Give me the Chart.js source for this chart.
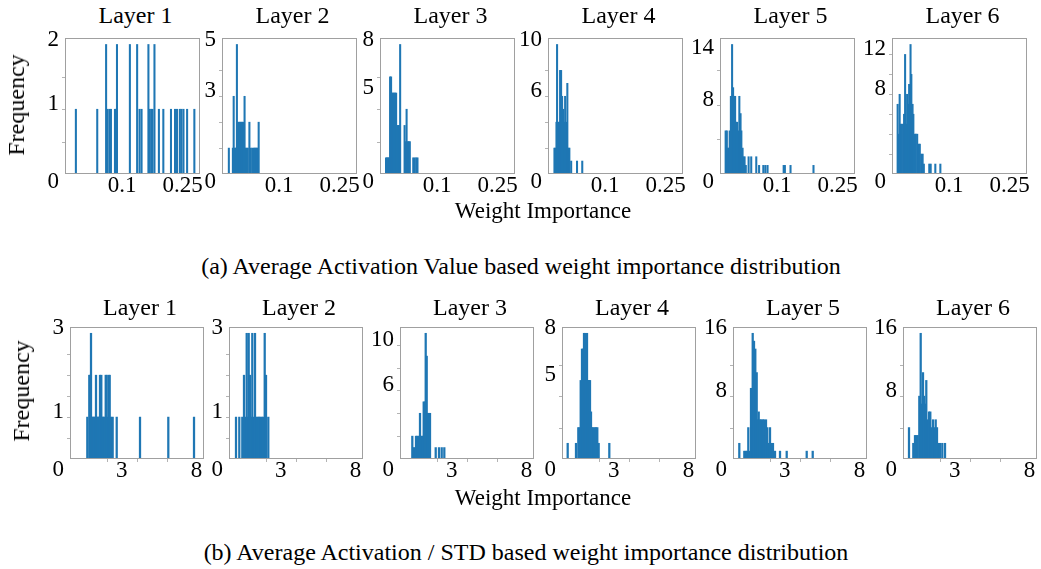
<!DOCTYPE html>
<html>
<head>
<meta charset="utf-8">
<script src="https://cdn.jsdelivr.net/npm/chart.js@4.4.1/dist/chart.umd.min.js"></script>
<style>
html, body { margin: 0; padding: 0; background: #fff; }
#fig { position: relative; width: 1041px; height: 569px; overflow: hidden;
       font-family: "Liberation Serif", "Times New Roman", serif; color: #000; }
#fig canvas { position: absolute; }
.txt { position: absolute; white-space: nowrap; line-height: 1; }
</style>
</head>
<body>
<div id="fig"></div>
<script>
// ---- data ----
const layerNames = ['Layer 1', 'Layer 2', 'Layer 3', 'Layer 4', 'Layer 5', 'Layer 6'];
const captions = [
    '(a) Average Activation Value based weight importance distribution',
    '(b) Average Activation / STD based weight importance distribution'
];
const xTitle = 'Weight Importance';
const yTitle = 'Frequency';

// x tick labels
const topXTicks = [0.1, 0.25];
const topXText = ['0.1', '0.25'];
const botXTicks = [3, 8];
const botXText = ['3', '8'];

// y tick labels per panel
const topYTicks = [[0, 1, 2], [0, 3, 5], [0, 5, 8], [0, 6, 10], [0, 8, 14], [0, 8, 12]];
const botYTicks = [[0, 1, 3], [0, 1, 3], [0, 6, 10], [0, 5, 8], [0, 8, 16], [0, 8, 16]];

// (a) average activation value: bin position / count
const a1x = [-0.015, 0.038, 0.060, 0.063, 0.068, 0.072, 0.082, 0.084, 0.087, 0.119, 0.137, 0.143, 0.148, 0.165,
             0.168, 0.172, 0.175, 0.180, 0.191, 0.202, 0.221, 0.231, 0.236, 0.243, 0.247, 0.252, 0.261, 0.279];
const a1n = [1, 1, 2, 1, 1, 1, 1, 1, 2, 2, 2, 1, 1, 2, 1, 1, 1, 2, 1, 1, 1, 1, 1, 1, 1, 1, 1, 1];

const a2x = [-0.025, -0.015, -0.013, -0.010, -0.008, -0.005, -0.002, 0.001, 0.003, 0.006, 0.008, 0.011, 0.014,
             0.016, 0.019, 0.022, 0.026, 0.029, 0.033, 0.037, 0.039, 0.042, 0.044, 0.047, 0.049];
const a2n = [1, 1, 3, 1, 1, 5, 2, 2, 2, 2, 2, 2, 3, 1, 1, 1, 2, 1, 1, 1, 1, 1, 1, 1, 2];

const a3x = [-0.027, -0.0245, -0.022, -0.0195, -0.017, -0.0145, -0.012, -0.0095, -0.007, -0.0045, -0.002, 0.0013,
             0.0038, 0.0063, 0.008, 0.019, 0.022, 0.024, 0.027, 0.029, 0.032, 0.0405, 0.044, 0.048, 0.051];
const a3n = [1, 1, 1, 1, 6, 6, 5, 5, 5, 5, 5, 3, 3, 3, 8, 3, 2, 4, 2, 2, 2, 1, 1, 1, 1];

const a4x = [-0.026, -0.024, -0.021, -0.0195, -0.017, -0.0145, -0.012, -0.0095, -0.007, -0.0045, -0.002, 0.0005,
             0.003, 0.006, 0.009, 0.011, 0.0155, 0.030, 0.043];
const a4n = [2, 2, 4, 10, 4, 4, 8, 8, 6, 5, 4, 6, 4, 7, 2, 2, 1, 1, 1];

const a5x = [-0.028, -0.025, -0.023, -0.020, -0.018, -0.015, -0.012, -0.0095, -0.007, -0.0045, -0.002, 0.0005,
             0.003, 0.006, 0.009, 0.011, 0.014, 0.016, 0.019, 0.022, 0.029, 0.0355, 0.048, 0.055, 0.0655, 0.0705,
             0.076, 0.116, 0.119, 0.133, 0.190];
const a5n = [5, 5, 3, 3, 5, 9, 15, 10, 9, 9, 6, 6, 5, 9, 7, 5, 3, 2, 2, 1, 2, 2, 2, 1, 1, 1, 1, 1, 1, 1, 1];

const a6x = [-0.028, -0.025, -0.023, -0.020, -0.018, -0.0145, -0.012, -0.0095, -0.007, -0.0045, -0.002, 0.0005,
             0.004, 0.006, 0.009, 0.011, 0.015, 0.017, 0.0205, 0.024, 0.027, 0.0305, 0.034, 0.037, 0.0505, 0.054,
             0.0655, 0.078];
const a6n = [7, 4, 8, 5, 5, 5, 6, 12, 5, 8, 7, 9, 13, 10, 7, 6, 4, 4, 4, 3, 3, 2, 2, 1, 1, 1, 1, 1];

// (b) average activation / std
const b1x = [0.706, 0.84, 0.886, 0.953, 1.02, 1.086, 1.153, 1.22, 1.287, 1.354, 1.42, 1.487, 1.554, 1.641, 1.708,
             1.775, 1.841, 1.935, 2.0, 2.068, 2.135, 2.202, 2.289, 2.40, 2.67, 4.226, 6.116, 7.833];
const b1n = [1, 2, 2, 3, 1, 1, 1, 1, 2, 1, 1, 1, 2, 2, 1, 1, 1, 2, 2, 1, 2, 2, 1, 1, 1, 1, 1, 1];

const b2x = [0.018, 0.238, 0.438, 0.552, 0.639, 0.732, 0.799, 0.866, 0.953, 1.02, 1.106, 1.20, 1.287, 1.374, 1.467,
             1.554, 1.641, 1.734, 1.821, 1.935, 2.022, 2.175];
const b2n = [1, 1, 1, 2, 1, 3, 1, 3, 2, 1, 3, 1, 3, 1, 1, 1, 1, 1, 1, 3, 2, 1];

const b3x = [0.372, 0.438, 0.532, 0.619, 0.706, 0.799, 0.886, 0.973, 1.066, 1.133, 1.20, 1.267, 1.334, 1.40, 1.467,
             1.554, 1.935, 2.155, 2.336, 2.51];
const b3n = [2, 1, 1, 2, 2, 2, 4, 2, 2, 5, 5, 11, 9, 4, 4, 4, 1, 1, 1, 1];

const b4x = [-0.07, 0.485, 0.639, 0.72, 0.799, 0.886, 0.953, 1.02, 1.086, 1.153, 1.22, 1.287, 1.354, 1.42, 1.487,
             1.554, 1.641, 1.734, 1.821, 1.908, 2.0, 2.71];
const b4n = [1, 1, 2, 2, 5, 7, 7, 8, 8, 5, 8, 5, 5, 5, 3, 2, 2, 2, 2, 2, 1, 1];

const b5x = [-0.029, 0.305, 0.398, 0.485, 0.572, 0.666, 0.752, 0.866, 0.953, 1.04, 1.133, 1.20, 1.267, 1.354, 1.44,
             1.534, 1.62, 1.687, 1.754, 1.841, 1.935, 2.022, 2.108, 2.22, 2.356, 2.69, 3.137, 4.473, 4.874];
const b5n = [2, 1, 1, 1, 4, 1, 9, 16, 15, 14, 11, 5, 6, 5, 5, 5, 5, 3, 5, 4, 2, 4, 2, 2, 1, 1, 1, 1, 1];

const b6x = [-0.049, 0.238, 0.352, 0.438, 0.532, 0.639, 0.732, 0.799, 0.886, 0.953, 1.04, 1.106, 1.20, 1.287, 1.374,
             1.467, 1.554, 1.641, 1.734, 1.821, 1.908, 2.022, 2.175, 2.356];
const b6n = [4, 2, 3, 3, 3, 8, 16, 7, 11, 8, 7, 10, 5, 6, 6, 4, 5, 4, 5, 4, 2, 2, 2, 2];

// ---- layout ----
const fig = document.getElementById('fig');
const BAR = '#1f77b4';
const PAD = { left: 45, right: 8, top: 8, bottom: 28 };

const rows = [
    { xs: [a1x, a2x, a3x, a4x, a5x, a6x], ns: [a1n, a2n, a3n, a4n, a5n, a6n], yTicks: topYTicks,
      ySteps: [0.5, 1, 1, 2, 2, 2], xMin: -0.042, xMax: 0.293, xStep: 0.05, xMinor: false,
      xTicks: topXTicks, xText: topXText, lefts: [65, 222, 380, 548, 720, 892], top: 38, w: 135, h: 136,
      zeroShift: 8, barW: 1.4, titleY: 15, freq: [16, 105], xTitleY: 210, capY: 266, capX: 521 },
    { xs: [b1x, b2x, b3x, b4x, b5x, b6x], ns: [b1n, b2n, b3n, b4n, b5n, b6n], yTicks: botYTicks,
      ySteps: [0.5, 0.5, 2, 1, 2, 2], xMin: -0.45, xMax: 8.5, xStep: 1, xMinor: true,
      xTicks: botXTicks, xText: botXText, lefts: [70, 229, 400, 562, 733, 903], top: 327, w: 134, h: 132,
      zeroShift: 11, barW: 1.6, titleY: 307, freq: [21, 391], xTitleY: 497, capY: 552, capX: 526 }
];

function addText(str, cx, cy, size, rot) {
    const d = document.createElement('div');
    d.className = 'txt';
    d.textContent = str;
    d.style.fontSize = size + 'px';
    d.style.left = cx + 'px';
    d.style.top = cy + 'px';
    d.style.transform = 'translate(-50%, -50%)' + (rot ? ' rotate(' + rot + 'deg)' : '');
    fig.appendChild(d);
}

// frame, small ticks and tick labels, drawn from the chart's own scales
const axisDecor = {
    id: 'axisDecor',
    afterDatasetsDraw(chart, args, o) {
        const { ctx, chartArea: a } = chart;
        const xs = chart.scales.x, ys = chart.scales.y;
        ctx.save();
        ctx.strokeStyle = '#b4b4b4';
        ctx.lineWidth = 1;
        ctx.beginPath();
        ys.ticks.forEach(t => {
            if (t.value <= ys.min || t.value >= ys.max) return;
            const py = Math.round(ys.getPixelForValue(t.value)) + 0.5;
            ctx.moveTo(a.left - 3, py);
            ctx.lineTo(a.left, py);
        });
        if (o.xMinor) {
            xs.ticks.forEach(t => {
                if (t.value <= xs.min || t.value >= xs.max) return;
                const px = Math.round(xs.getPixelForValue(t.value)) + 0.5;
                ctx.moveTo(px, a.bottom);
                ctx.lineTo(px, a.bottom + 3);
            });
        }
        ctx.stroke();

        ctx.strokeStyle = '#a0a0a0';
        ctx.strokeRect(a.left + 0.5, a.top + 0.5, a.right - a.left - 1, a.bottom - a.top - 1);

        ctx.fillStyle = '#000';
        ctx.font = '23px "Liberation Serif", serif';
        ctx.textAlign = 'right';
        ctx.textBaseline = 'middle';
        o.yLabels.forEach(v => {
            const py = ys.getPixelForValue(v) + (v === 0 ? o.zeroShift : -5);
            ctx.fillText(String(v), a.left - 6, py);
        });
        ctx.textAlign = 'center';
        o.xLabels.forEach((v, i) => {
            ctx.fillText(o.xText[i], xs.getPixelForValue(v), a.bottom + 12);
        });
        ctx.restore();
    }
};

rows.forEach((row, r) => {
    row.lefts.forEach((left, i) => {
        const cv = document.createElement('canvas');
        const cw = PAD.left + row.w + PAD.right;
        const ch = PAD.top + row.h + PAD.bottom;
        cv.width = cw;
        cv.height = ch;
        cv.style.width = cw + 'px';
        cv.style.height = ch + 'px';
        cv.style.left = (left - PAD.left) + 'px';
        cv.style.top = (row.top - PAD.top) + 'px';
        fig.appendChild(cv);

        const xv = row.xs[i], nv = row.ns[i];
        const yMax = Math.max(...nv) * 1.05;

        new Chart(cv, {
            type: 'bar',
            data: {
                datasets: [{
                    data: xv.map((x, k) => ({ x: x, y: nv[k] })),
                    backgroundColor: BAR,
                    borderWidth: 0,
                    barThickness: row.barW
                }]
            },
            options: {
                responsive: false,
                animation: false,
                devicePixelRatio: 1,
                layout: { padding: PAD },
                plugins: {
                    legend: { display: false },
                    tooltip: { enabled: false },
                    axisDecor: {
                        yLabels: row.yTicks[i],
                        xLabels: row.xTicks,
                        xText: row.xText,
                        zeroShift: row.zeroShift,
                        xMinor: row.xMinor
                    }
                },
                scales: {
                    x: { type: 'linear', display: false, offset: false, bounds: 'ticks',
                         min: row.xMin, max: row.xMax, ticks: { stepSize: row.xStep } },
                    y: { display: false, min: 0, max: yMax, ticks: { stepSize: row.ySteps[i] } }
                }
            },
            plugins: [axisDecor]
        });

        addText(layerNames[i], left + row.w / 2 + 3, row.titleY, 24);
    });

    addText(yTitle, row.freq[0], row.freq[1], 24, -90);
    addText(xTitle, 543, row.xTitleY, 23);
    addText(captions[r], row.capX, row.capY, 24);
});
</script>
</body>
</html>
